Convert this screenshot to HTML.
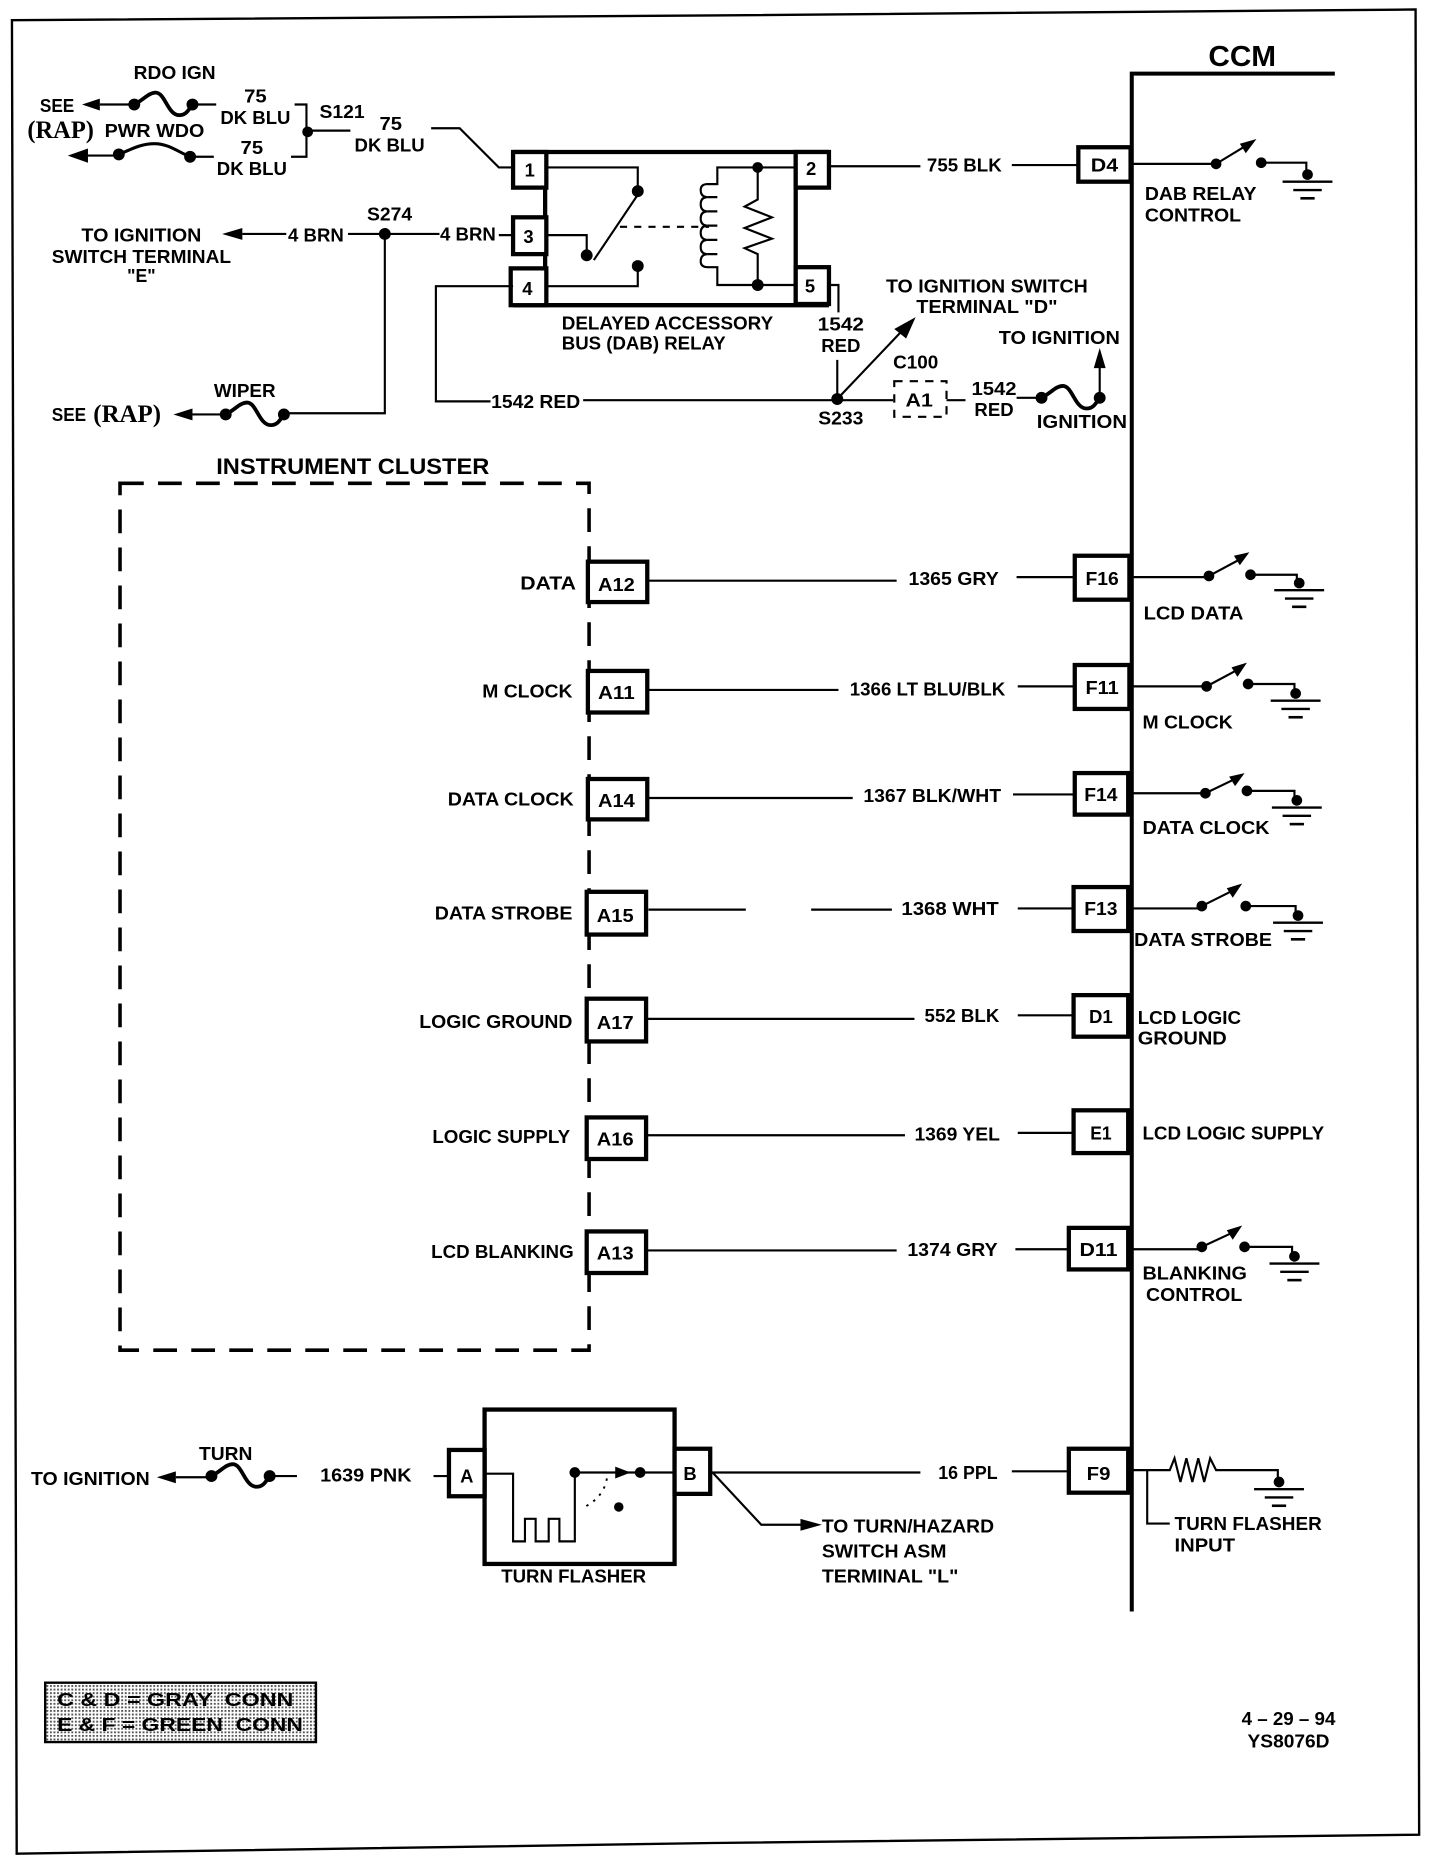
<!DOCTYPE html>
<html><head><meta charset="utf-8"><title>CCM wiring diagram</title>
<style>
html,body{margin:0;padding:0;background:#fff}
svg{display:block}
text{font-family:"Liberation Sans",sans-serif;font-weight:bold;font-size:15.5px;fill:#000;text-anchor:middle;dominant-baseline:central}
.l{text-anchor:start}
.r{text-anchor:end}
.s{font-family:"Liberation Serif",serif;font-weight:bold;font-size:21px}
.w{fill:none;stroke:#000;stroke-width:1.8}
.b{fill:none;stroke:#000;stroke-width:3.6}
.bx{fill:#fff;stroke:#000;stroke-width:3.6}
circle{fill:#000;stroke:none}
.h{fill:#000;stroke:none}
</style></head><body>
<svg xmlns="http://www.w3.org/2000/svg" width="1440" height="1862" viewBox="0 0 1212.5 1568">
<defs>
<g id="gnd"><circle cx="0" cy="-6" r="4.5"/><path class="w" d="M-21 0H21" style="stroke-width:2"/><path class="w" d="M-12 7H12" style="stroke-width:2"/><path class="w" d="M-6 14H6" style="stroke-width:2.2"/></g>
<g id="fuse"><circle cx="0" cy="0" r="5"/><circle cx="49" cy="0" r="5"/><path d="M0 0C8 -4 12 -10 18 -10C26 -10 28 9 38 9C44 9 46 4 49 0" fill="none" stroke="#000" stroke-width="3.2"/></g>
<pattern id="dots" width="3" height="3" patternUnits="userSpaceOnUse"><rect width="3" height="3" fill="#fff"/><rect width="1.6" height="1.6" fill="#555"/></pattern>
</defs>
<rect width="1212.5" height="1568" fill="#fff"/>
<!-- border -->
<path d="M10 17L600 13L1192 8L1195 1545L600 1552L14 1561L10 17Z" fill="none" stroke="#000" stroke-width="2"/>
<!-- CCM -->
<text x="1046" y="48" style="font-size:24px" textLength="57" lengthAdjust="spacingAndGlyphs">CCM</text>
<path d="M1124 62H953V1357" fill="none" stroke="#000" stroke-width="3.4"/>

<!-- top left -->
<text x="147" y="61" textLength="69" lengthAdjust="spacingAndGlyphs">RDO IGN</text>
<text x="48" y="89" textLength="29" lengthAdjust="spacingAndGlyphs">SEE</text>
<text x="51" y="110" class="s" textLength="56" lengthAdjust="spacingAndGlyphs">(RAP)</text>
<text x="130" y="110" textLength="84" lengthAdjust="spacingAndGlyphs">PWR WDO</text>
<path class="h" d="M69 88L84 83V93Z"/><path class="w" d="M84 88H113"/>
<use href="#fuse" x="113" y="88"/><path class="w" d="M162 88H182"/>
<path class="h" d="M57 131L74 125V137Z"/><path class="w" d="M74 131H100"/>
<circle cx="100" cy="130" r="5"/><circle cx="160" cy="132" r="5"/>
<path d="M100 130C110 126 118 121 130 121C142 121 150 128 160 132" fill="none" stroke="#000" stroke-width="2.6"/>
<path class="w" d="M160 132H180"/>
<text x="215" y="81" textLength="19" lengthAdjust="spacingAndGlyphs">75</text>
<text x="215" y="99" textLength="59" lengthAdjust="spacingAndGlyphs">DK BLU</text>
<text x="212" y="124" textLength="19" lengthAdjust="spacingAndGlyphs">75</text>
<text x="212" y="142" textLength="59" lengthAdjust="spacingAndGlyphs">DK BLU</text>
<path class="w" d="M248 88H258V132H245"/>
<circle cx="259" cy="111" r="4.5"/>
<path class="w" d="M259 110H295"/>
<text x="288" y="94" textLength="38" lengthAdjust="spacingAndGlyphs">S121</text>
<text x="329" y="104" textLength="19" lengthAdjust="spacingAndGlyphs">75</text>
<text x="328" y="122" textLength="59" lengthAdjust="spacingAndGlyphs">DK BLU</text>
<path class="w" d="M363 108H387L420 141H432"/>

<!-- 4 BRN -->
<text x="119" y="198" textLength="101" lengthAdjust="spacingAndGlyphs">TO IGNITION</text>
<text x="119" y="216" textLength="151" lengthAdjust="spacingAndGlyphs">SWITCH TERMINAL</text>
<text x="119" y="232" textLength="24" lengthAdjust="spacingAndGlyphs">"E"</text>
<path class="h" d="M187 197L204 192V202Z"/><path class="w" d="M204 197H241M293 197H370M420 198H431"/>
<text x="266" y="198" textLength="47" lengthAdjust="spacingAndGlyphs">4 BRN</text>
<text x="394" y="197" textLength="47" lengthAdjust="spacingAndGlyphs">4 BRN</text>
<circle cx="324" cy="197" r="5"/>
<text x="328" y="180" textLength="38" lengthAdjust="spacingAndGlyphs">S274</text>
<path class="w" d="M324 197V348H240"/>
<text x="206" y="329" textLength="52" lengthAdjust="spacingAndGlyphs">WIPER</text>
<text x="58" y="349" textLength="29" lengthAdjust="spacingAndGlyphs">SEE</text>
<text x="107" y="349" class="s" textLength="57" lengthAdjust="spacingAndGlyphs">(RAP)</text>
<path class="h" d="M146 349L162 344V354Z"/><path class="w" d="M162 349H190"/>
<use href="#fuse" x="190" y="349"/>

<!-- relay -->
<path class="b" d="M432 128H698M432 257H698M459 128V257M670 128V257"/>
<rect class="bx" x="432" y="128" width="28" height="30"/>
<rect class="bx" x="432" y="183" width="28" height="31"/>
<rect class="bx" x="430" y="226" width="30" height="31"/>
<rect class="bx" x="670" y="128" width="28" height="30"/>
<rect class="bx" x="670" y="225" width="28" height="31"/>
<text x="446" y="143">1</text><text x="445" y="199">3</text><text x="444" y="243">4</text><text x="683" y="142">2</text><text x="682" y="241">5</text>
<path class="w" d="M460 141H537V160M460 198H494V215M460 241H537V224"/>
<circle cx="537" cy="161" r="5"/><circle cx="494" cy="215" r="5"/><circle cx="537" cy="224" r="5"/>
<path class="w" d="M500 219L537 164"/>
<path class="w" stroke-dasharray="6 6" d="M522 191H597"/>
<path class="w" d="M670 141H604V155H596Q590 155 590 160Q590 166 596 166Q590 166 590 172Q590 178 596 178Q590 178 590 184Q590 190 596 190Q590 190 590 196Q590 202 596 202Q590 202 590 208Q590 214 596 214Q590 214 590 220Q590 225 596 225H604V240H670"/>
<path class="w" d="M604 155H596M604 166H596M604 178H596M604 190H596M604 202H596M604 214H596"/>
<path class="w" d="M638 141V168L627 174L650 183L627 192L650 201L627 209L638 214V240"/>
<circle cx="638" cy="141" r="4.5"/><circle cx="638" cy="240" r="5"/>
<text x="562" y="272" textLength="178" lengthAdjust="spacingAndGlyphs">DELAYED ACCESSORY</text>
<text x="542" y="289" textLength="138" lengthAdjust="spacingAndGlyphs">BUS (DAB) RELAY</text>

<!-- 755 -->
<path class="w" d="M698 140H775M852 139H908"/>
<text x="812" y="139" textLength="63" lengthAdjust="spacingAndGlyphs">755 BLK</text>
<rect class="bx" x="908" y="124" width="44" height="29"/>
<text x="930" y="139" textLength="23" lengthAdjust="spacingAndGlyphs">D4</text>
<path class="w" d="M952 138H1024"/><circle cx="1024" cy="138" r="4.5"/><circle cx="1062" cy="137" r="4.5"/>
<path class="w" d="M1024 138L1052 121"/><path class="h" d="M1058 117L1049 129L1044 121Z"/>
<path class="w" d="M1062 137H1100V150"/><use href="#gnd" x="1101" y="153"/>
<text class="l" x="964" y="163" textLength="94" lengthAdjust="spacingAndGlyphs">DAB RELAY</text>
<text class="l" x="964" y="181" textLength="81" lengthAdjust="spacingAndGlyphs">CONTROL</text>

<!-- 1542 -->
<path class="w" d="M698 240H706V263"/>
<text x="708" y="273" textLength="39" lengthAdjust="spacingAndGlyphs">1542</text>
<text x="708" y="291" textLength="33" lengthAdjust="spacingAndGlyphs">RED</text>
<path class="w" d="M705 303V337M432 241H367V338H413M491 337H752M797 337H813"/>
<text x="451" y="338" textLength="75" lengthAdjust="spacingAndGlyphs">1542 RED</text>
<circle cx="705" cy="336" r="5"/>
<text x="708" y="352" textLength="38" lengthAdjust="spacingAndGlyphs">S233</text>
<path class="w" d="M705 336L762 276"/><path class="h" d="M771 267L763 285L753 277Z"/>
<text x="831" y="241" textLength="170" lengthAdjust="spacingAndGlyphs">TO IGNITION SWITCH</text>
<text x="831" y="258" textLength="119" lengthAdjust="spacingAndGlyphs">TERMINAL "D"</text>
<text x="771" y="305" textLength="38" lengthAdjust="spacingAndGlyphs">C100</text>
<rect x="753" y="321" width="44" height="30" fill="#fff" stroke="#000" stroke-width="1.8" stroke-dasharray="7 6"/>
<text x="774" y="337" textLength="23" lengthAdjust="spacingAndGlyphs">A1</text>
<text x="837" y="327" textLength="38" lengthAdjust="spacingAndGlyphs">1542</text>
<text x="837" y="345" textLength="33" lengthAdjust="spacingAndGlyphs">RED</text>
<path class="w" d="M856 335H877"/>
<use href="#fuse" x="877" y="335"/>
<path class="w" d="M926 335V305"/><path class="h" d="M926 293L931 310H921Z"/>
<text x="892" y="284" textLength="102" lengthAdjust="spacingAndGlyphs">TO IGNITION</text>
<text x="911" y="355" textLength="76" lengthAdjust="spacingAndGlyphs">IGNITION</text>

<!-- Instrument cluster -->
<text x="297" y="393" style="font-size:19px" textLength="230" lengthAdjust="spacingAndGlyphs">INSTRUMENT CLUSTER</text>
<path d="M101 407H496V1137H101Z" fill="none" stroke="#000" stroke-width="3" stroke-dasharray="20 12"/>

<!-- rows -->
<rect class="bx" x="495" y="473" width="50" height="34"/><text x="519" y="492" textLength="31" lengthAdjust="spacingAndGlyphs">A12</text>
<text class="r" x="485" y="491" textLength="47" lengthAdjust="spacingAndGlyphs">DATA</text>
<path class="w" d="M546 489H755M856 486H905"/>
<text x="803" y="487" textLength="76" lengthAdjust="spacingAndGlyphs">1365 GRY</text>
<rect class="bx" x="905" y="468" width="46" height="37"/><text x="928" y="487" textLength="28" lengthAdjust="spacingAndGlyphs">F16</text>

<rect class="bx" x="495" y="565" width="50" height="35"/><text x="519" y="583" textLength="31" lengthAdjust="spacingAndGlyphs">A11</text>
<text class="r" x="482" y="582" textLength="76" lengthAdjust="spacingAndGlyphs">M CLOCK</text>
<path class="w" d="M546 581H706M857 578H905"/>
<text x="781" y="580" textLength="131" lengthAdjust="spacingAndGlyphs">1366 LT BLU/BLK</text>
<rect class="bx" x="905" y="560" width="46" height="37"/><text x="928" y="579" textLength="28" lengthAdjust="spacingAndGlyphs">F11</text>

<rect class="bx" x="495" y="656" width="50" height="34"/><text x="519" y="674" textLength="31" lengthAdjust="spacingAndGlyphs">A14</text>
<text class="r" x="483" y="673" textLength="106" lengthAdjust="spacingAndGlyphs">DATA CLOCK</text>
<path class="w" d="M546 672H718M853 669H905"/>
<text x="785" y="670" textLength="116" lengthAdjust="spacingAndGlyphs">1367 BLK/WHT</text>
<rect class="bx" x="905" y="651" width="45" height="35"/><text x="927" y="669" textLength="28" lengthAdjust="spacingAndGlyphs">F14</text>

<rect class="bx" x="494" y="751" width="50" height="36"/><text x="518" y="771" textLength="31" lengthAdjust="spacingAndGlyphs">A15</text>
<text class="r" x="482" y="769" textLength="116" lengthAdjust="spacingAndGlyphs">DATA STROBE</text>
<path class="w" d="M546 766H628M683 766H751M857 765H904"/>
<text x="800" y="765" textLength="82" lengthAdjust="spacingAndGlyphs">1368 WHT</text>
<rect class="bx" x="904" y="747" width="46" height="37"/><text x="927" y="765" textLength="28" lengthAdjust="spacingAndGlyphs">F13</text>

<rect class="bx" x="494" y="841" width="50" height="36"/><text x="518" y="861" textLength="31" lengthAdjust="spacingAndGlyphs">A17</text>
<text class="r" x="482" y="860" textLength="129" lengthAdjust="spacingAndGlyphs">LOGIC GROUND</text>
<path class="w" d="M545 858H770M857 855H904"/>
<text x="810" y="855" textLength="63" lengthAdjust="spacingAndGlyphs">552 BLK</text>
<rect class="bx" x="904" y="838" width="46" height="35"/><text x="927" y="856" textLength="20" lengthAdjust="spacingAndGlyphs">D1</text>

<rect class="bx" x="494" y="941" width="50" height="35"/><text x="518" y="959" textLength="31" lengthAdjust="spacingAndGlyphs">A16</text>
<text class="r" x="480" y="957" textLength="116" lengthAdjust="spacingAndGlyphs">LOGIC SUPPLY</text>
<path class="w" d="M545 956H762M857 954H904"/>
<text x="806" y="955" textLength="72" lengthAdjust="spacingAndGlyphs">1369 YEL</text>
<rect class="bx" x="904" y="935" width="46" height="36"/><text x="927" y="954" textLength="18" lengthAdjust="spacingAndGlyphs">E1</text>

<rect class="bx" x="494" y="1037" width="50" height="35"/><text x="518" y="1055" textLength="31" lengthAdjust="spacingAndGlyphs">A13</text>
<text class="r" x="483" y="1054" textLength="120" lengthAdjust="spacingAndGlyphs">LCD BLANKING</text>
<path class="w" d="M545 1053H755M855 1052H900"/>
<text x="802" y="1052" textLength="76" lengthAdjust="spacingAndGlyphs">1374 GRY</text>
<rect class="bx" x="900" y="1034" width="50" height="35"/><text x="925" y="1052" textLength="32" lengthAdjust="spacingAndGlyphs">D11</text>

<!-- switches -->
<path class="w" d="M952 486H1018M1018 485L1046 470M1053 484H1092V490"/><circle cx="1018" cy="485" r="4.5"/><circle cx="1053" cy="484" r="4.5"/><path class="h" d="M1052 465L1044 476L1039 468Z"/><use href="#gnd" x="1094" y="497"/>
<text class="l" x="963" y="516" textLength="84" lengthAdjust="spacingAndGlyphs">LCD DATA</text>

<path class="w" d="M952 578H1016M1016 578L1044 563M1051 576H1090V582"/><circle cx="1016" cy="578" r="4.5"/><circle cx="1051" cy="576" r="4.5"/><path class="h" d="M1050 558L1042 570L1037 562Z"/><use href="#gnd" x="1091" y="590"/>
<text class="l" x="962" y="608" textLength="76" lengthAdjust="spacingAndGlyphs">M CLOCK</text>

<path class="w" d="M950 668H1015M1015 668L1042 655M1050 666H1090V672"/><circle cx="1015" cy="668" r="4.5"/><circle cx="1050" cy="666" r="4.5"/><path class="h" d="M1048 651L1040 662L1035 654Z"/><use href="#gnd" x="1092" y="680"/>
<text class="l" x="962" y="697" textLength="107" lengthAdjust="spacingAndGlyphs">DATA CLOCK</text>

<path class="w" d="M950 765H1012M1012 763L1040 749M1049 763H1091V769"/><circle cx="1012" cy="763" r="4.5"/><circle cx="1049" cy="763" r="4.5"/><path class="h" d="M1046 744L1038 756L1033 748Z"/><use href="#gnd" x="1093" y="777"/>
<text class="l" x="955" y="791" textLength="116" lengthAdjust="spacingAndGlyphs">DATA STROBE</text>

<text class="l" x="958" y="857" textLength="87" lengthAdjust="spacingAndGlyphs">LCD LOGIC</text>
<text class="l" x="958" y="874" textLength="75" lengthAdjust="spacingAndGlyphs">GROUND</text>
<text class="l" x="962" y="954" textLength="153" lengthAdjust="spacingAndGlyphs">LCD LOGIC SUPPLY</text>

<path class="w" d="M950 1052H1012M1012 1050L1040 1037M1048 1050H1088V1056"/><circle cx="1012" cy="1050" r="4.5"/><circle cx="1048" cy="1050" r="4.5"/><path class="h" d="M1046 1032L1038 1044L1033 1036Z"/><use href="#gnd" x="1090" y="1064"/>
<text class="l" x="962" y="1072" textLength="88" lengthAdjust="spacingAndGlyphs">BLANKING</text>
<text class="l" x="965" y="1090" textLength="81" lengthAdjust="spacingAndGlyphs">CONTROL</text>

<!-- turn -->
<text x="76" y="1245" textLength="100" lengthAdjust="spacingAndGlyphs">TO IGNITION</text>
<path class="h" d="M132 1244L148 1239V1249Z"/><path class="w" d="M148 1244H178"/>
<text x="190" y="1224" textLength="45" lengthAdjust="spacingAndGlyphs">TURN</text>
<use href="#fuse" x="178" y="1243"/><path class="w" d="M227 1243H250"/>
<text x="308" y="1242" textLength="77" lengthAdjust="spacingAndGlyphs">1639 PNK</text>
<path class="w" d="M365 1243H378"/>
<rect class="b" x="408" y="1187" width="160" height="130"/>
<rect class="bx" x="378" y="1221" width="30" height="39"/><text x="393" y="1243">A</text>
<rect class="bx" x="568" y="1220" width="30" height="38"/><text x="581" y="1241">B</text>
<path class="w" d="M408 1241H432V1298H442V1279H451V1298H462V1279H471V1298H484V1240H568"/>
<circle cx="484" cy="1240" r="4.5"/><circle cx="539" cy="1240" r="4.5"/>
<path class="h" d="M531 1240L518 1235V1245Z"/>
<path d="M511 1245Q508 1262 490 1270" fill="none" stroke="#000" stroke-width="1.6" stroke-dasharray="2 5"/>
<circle cx="521" cy="1269" r="4"/>
<text x="483" y="1327" textLength="122" lengthAdjust="spacingAndGlyphs">TURN FLASHER</text>
<path class="w" d="M598 1240H775M852 1239H900M600 1240L641 1284H676"/>
<path class="h" d="M692 1284L674 1279V1289Z"/>
<text x="815" y="1240" textLength="50" lengthAdjust="spacingAndGlyphs">16 PPL</text>
<rect class="bx" x="900" y="1220" width="50" height="37"/><text x="925" y="1241" textLength="20" lengthAdjust="spacingAndGlyphs">F9</text>
<text class="l" x="692" y="1285" textLength="145" lengthAdjust="spacingAndGlyphs">TO TURN/HAZARD</text>
<text class="l" x="692" y="1306" textLength="105" lengthAdjust="spacingAndGlyphs">SWITCH ASM</text>
<text class="l" x="692" y="1327" textLength="115" lengthAdjust="spacingAndGlyphs">TERMINAL "L"</text>
<path class="w" d="M952 1238H985L989 1228L994 1248L999 1228L1004 1248L1009 1228L1014 1248L1019 1228L1024 1238H1076V1244"/>
<use href="#gnd" x="1077" y="1254"/>
<path class="w" d="M966 1238V1283H985"/>
<text class="l" x="989" y="1283" textLength="124" lengthAdjust="spacingAndGlyphs">TURN FLASHER</text>
<text class="l" x="989" y="1301" textLength="51" lengthAdjust="spacingAndGlyphs">INPUT</text>

<!-- legend -->
<rect x="38" y="1417" width="228" height="50" fill="url(#dots)" stroke="#000" stroke-width="2"/>
<text class="l" x="48" y="1431" textLength="199" lengthAdjust="spacingAndGlyphs" xml:space="preserve">C &amp; D = GRAY  CONN</text>
<text class="l" x="48" y="1452" textLength="207" lengthAdjust="spacingAndGlyphs" xml:space="preserve">E &amp; F = GREEN  CONN</text>

<!-- date -->
<text x="1085" y="1447" textLength="79" lengthAdjust="spacingAndGlyphs">4 – 29 – 94</text>
<text x="1085" y="1466" textLength="69" lengthAdjust="spacingAndGlyphs">YS8076D</text>
</svg>
</body></html>
